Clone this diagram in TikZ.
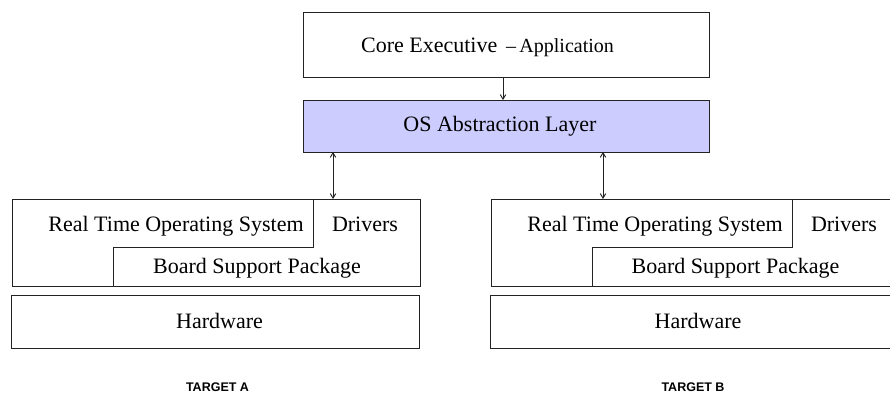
\documentclass[tikz,border=0pt]{standalone}
\usepackage{fontspec}
\setmainfont{Liberation Serif}
\newfontfamily\labelfont{Liberation Sans}
\usetikzlibrary{arrows.meta}
\definecolor{lav}{RGB}{204,204,255}
\definecolor{edge}{RGB}{35,35,35}
\begin{document}
\begin{tikzpicture}[x=1pt,y=-1pt,
  box/.style={draw=edge,line width=0.95pt,inner sep=0pt,outer sep=0pt},
  txt/.style={font=\fontsize{22}{24}\selectfont,inner sep=0pt,anchor=base},
  tgt/.style={font=\labelfont\bfseries\fontsize{12.5}{14}\selectfont,inner sep=0pt,anchor=base},
  conn/.style={draw=edge,line width=0.95pt},
  tip/.style={-{Straight Barb[length=4.5pt,width=5.5pt]}},
  dtip/.style={{Straight Barb[length=4.5pt,width=5.5pt]}-{Straight Barb[length=4.5pt,width=5.5pt]}}]
\useasboundingbox (0,0) rectangle (890,395);
% top boxes
\node[box,minimum width=406pt,minimum height=65pt] (core) at (506,44.5) {};
\node[box,fill=lav,minimum width=406pt,minimum height=52pt] (osal) at (506,126) {};
\node[txt] (coretext) at (487.5,53) {Core Executive {\fontsize{20}{22}\selectfont\,–\,Application}};
\node[txt] (osaltext) at (500,132) {OS Abstraction Layer};
% left target
\node[box,minimum width=408pt,minimum height=87pt] (lsys) at (216,242.5) {};
\node[box,minimum width=408pt,minimum height=53pt] (lhw) at (215,321.5) {};
\coordinate (lstepA) at (313,199);
\coordinate (lstepB) at (113,286);
\draw[conn] (lstepA) -- (lstepA |- 0,247) -- (lstepB |- 0,247) -- (lstepB);
\node[txt] (lrtos) at (176,231) {Real Time Operating System};
\node[txt] (ldrv) at (365,231) {Drivers};
\node[txt] (lbsp) at (257,273) {Board Support Package};
\node[txt] (lhwt) at (219.5,328) {Hardware};
% right target
\node[box,minimum width=410pt,minimum height=87pt] (rsys) at (696,242.5) {};
\node[box,minimum width=410pt,minimum height=53pt] (rhw) at (695,321.5) {};
\coordinate (rstepA) at (792,199);
\coordinate (rstepB) at (592,286);
\draw[conn] (rstepA) -- (rstepA |- 0,247) -- (rstepB |- 0,247) -- (rstepB);
\node[txt] (rrtos) at (655,231) {Real Time Operating System};
\node[txt] (rdrv) at (844,231) {Drivers};
\node[txt] (rbsp) at (735.5,273) {Board Support Package};
\node[txt] (rhwt) at (698,328) {Hardware};
% connectors
\coordinate (cx) at (503,0);
\coordinate (lx) at (333,0);
\coordinate (rx) at (603,0);
\draw[conn,tip] (cx |- core.south) -- (cx |- osal.north);
\draw[conn,dtip] (lx |- osal.south) -- (lx |- lsys.north);
\draw[conn,dtip] (rx |- osal.south) -- (rx |- rsys.north);
% labels
\node[tgt] (ta) at (217.5,391) {TARGET A};
\node[tgt] (tb) at (693,391) {TARGET B};
\end{tikzpicture}
\end{document}
